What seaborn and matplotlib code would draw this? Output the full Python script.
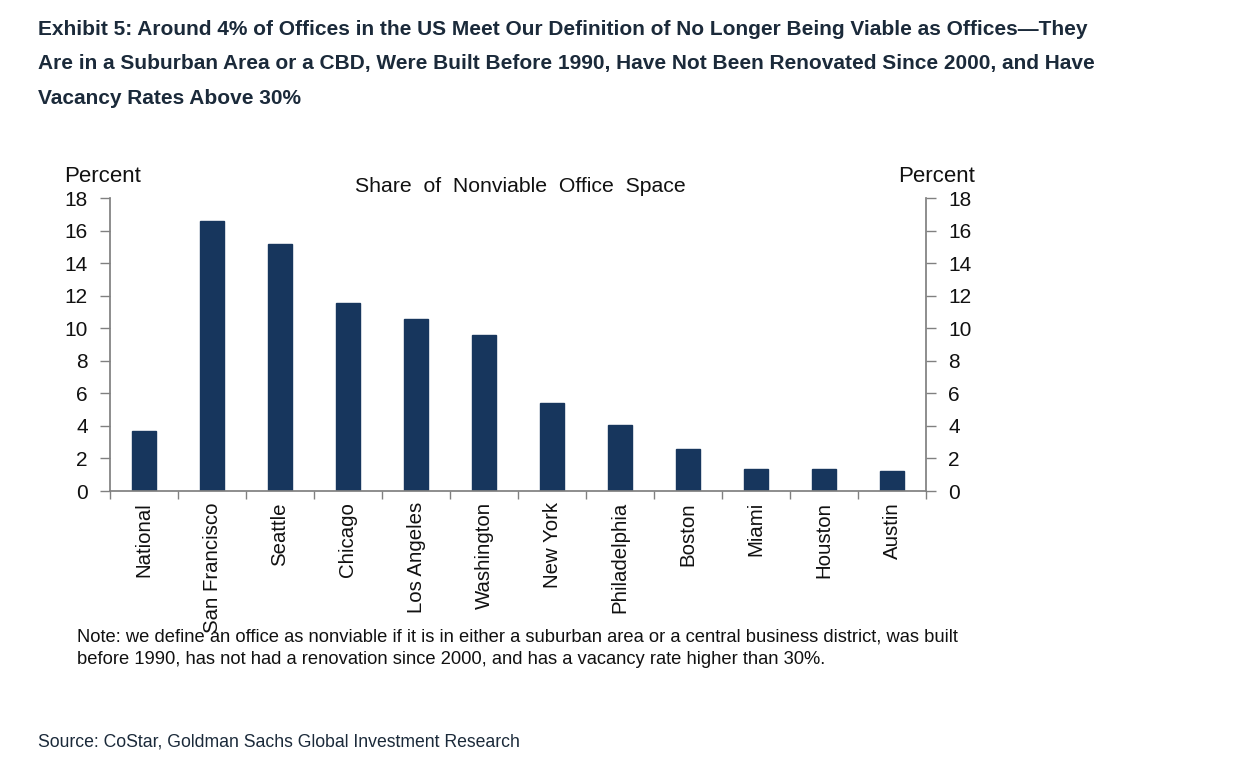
import matplotlib
matplotlib.use("Agg")
import matplotlib.pyplot as plt
import seaborn as sns
import pandas as pd

categories = ["National", "San Francisco", "Seattle", "Chicago", "Los Angeles", "Washington",
              "New York", "Philadelphia", "Boston", "Miami", "Houston", "Austin"]
values = [3.7, 16.6, 15.2, 11.55, 10.55, 9.6, 5.42, 4.03, 2.6, 1.33, 1.33, 1.25]
yticks = [0, 2, 4, 6, 8, 10, 12, 14, 16, 18]

sns.set_theme(style="white")
plt.rcParams["font.family"] = ["Liberation Sans", "DejaVu Sans"]

W, H = 1242, 766
fig = plt.figure(figsize=(W / 100, H / 100), dpi=100)
L, R, T, B = 110, 926, 198, 491
ax = fig.add_axes([L / W, 1 - B / H, (R - L) / W, (B - T) / H])

df = pd.DataFrame({"city": categories, "share": values})
navy = "#17365D"
sns.barplot(data=df, x="city", y="share", color=navy, width=0.34, ax=ax,
            saturation=1, edgecolor=navy)

ax.set_xlim(-0.5, len(categories) - 0.5)
ax.set_ylim(0, 18)
ax.set_yticks(yticks)
ax.set_xlabel("")
ax.set_ylabel("")
axis_col = "#808080"
txt = "#111111"
for s in ["top", "right"]:
    ax.spines[s].set_visible(False)
ax.spines["left"].set_color(axis_col)
ax.spines["bottom"].set_color(axis_col)

# x ticks at category boundaries, labels at bar centers
ax.set_xticks([i + 0.5 for i in range(-1, len(categories))], minor=False)
ax.set_xticklabels([])
ax.set_xticks(range(len(categories)), minor=True)
ax.set_xticklabels(categories, minor=True, rotation=90, fontsize=14.7, color=txt)
ax.tick_params(axis="x", which="major", direction="out", length=6, width=1, color=axis_col, bottom=True)
ax.tick_params(axis="x", which="minor", length=0, pad=8, bottom=True)
ax.tick_params(axis="y", direction="out", length=7, width=1, color=axis_col, labelsize=15,
               labelcolor=txt, left=True, pad=9)

ax2 = ax.twinx()
ax2.set_ylim(0, 18)
ax2.set_yticks(yticks)
for s in ["top", "left", "bottom"]:
    ax2.spines[s].set_visible(False)
ax2.spines["right"].set_color(axis_col)
ax2.tick_params(axis="y", direction="out", length=7, width=1, color=axis_col, labelsize=15,
                labelcolor=txt, right=True, pad=9)

fig.text(64 / W, 1 - 177 / H, "Percent", fontsize=16, color=txt, va="center", ha="left")
fig.text(975 / W, 1 - 177 / H, "Percent", fontsize=16, color=txt, va="center", ha="right")
fig.text(520 / W, 1 - 186 / H, "Share  of  Nonviable  Office  Space", fontsize=15.3,
         color=txt, va="center", ha="center")

title = ("Exhibit 5: Around 4% of Offices in the US Meet Our Definition of No Longer Being Viable as Offices\u2014They\n"
         "Are in a Suburban Area or a CBD, Were Built Before 1990, Have Not Been Renovated Since 2000, and Have\n"
         "Vacancy Rates Above 30%")
fig.text(38 / W, 1 - 20 / H, title, fontsize=15, fontweight="bold",
         color="#1B2A3A", va="top", ha="left", linespacing=2.02)

note = ("Note: we define an office as nonviable if it is in either a suburban area or a central business district, was built\n"
        "before 1990, has not had a renovation since 2000, and has a vacancy rate higher than 30%.")
fig.text(77 / W, 1 - 628 / H, note, fontsize=13.2, color=txt,
         va="top", ha="left", linespacing=1.45)

fig.text(38 / W, 1 - 742 / H, "Source: CoStar, Goldman Sachs Global Investment Research", fontsize=12.7,
         color="#1B2A3A", va="center", ha="left")

fig.savefig("out.png", dpi=100, facecolor="white")
